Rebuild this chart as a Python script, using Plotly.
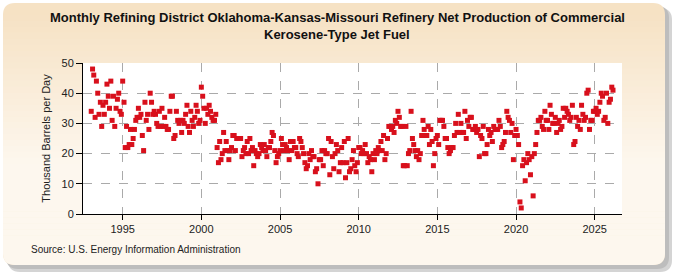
import pandas as pd
import plotly.graph_objects as go

# ---- data (thousand barrels per day, monthly from Jan 1993) ----
y1993 = [34, 48, 46, 32, 44, 40, 33, 37, 29, 36, 33, 37]
y1994 = [43, 39, 35, 44, 31, 39, 29, 35, 38, 40, 34, 33]
y1995 = [44, 37, 22, 29, 22, 23, 28, 23, 25, 28, 31, 32]
y1996 = [35, 32, 33, 26, 21, 37, 31, 33, 28, 40, 37, 33]
y1997 = [34, 33, 30, 29, 34, 29, 35, 29, 32, 29, 28, 28]
y1998 = [34, 39, 39, 25, 26, 34, 31, 30, 31, 27, 31, 30]
y1999 = [33, 36, 29, 27, 34, 31, 29, 32, 36, 34, 30, 31]
y2000 = [42, 39, 35, 30, 35, 33, 36, 34, 32, 31, 31, 33]
y2001 = [22, 17, 24, 18, 20, 27, 21, 24, 21, 18, 21, 22]
y2002 = [26, 26, 21, 25, 25, 25, 25, 19, 21, 22, 20, 24]
y2003 = [20, 25, 21, 22, 16, 21, 20, 19, 20, 23, 22, 21]
y2004 = [23, 21, 19, 22, 22, 24, 27, 26, 21, 17, 19, 20]
y2005 = [21, 25, 23, 21, 23, 22, 21, 18, 24, 21, 24, 22]
y2006 = [22, 20, 19, 25, 24, 22, 20, 17, 15, 16, 20, 18]
y2007 = [21, 19, 19, 14, 15, 10, 18, 18, 21, 16, 21, 20]
y2008 = [20, 25, 13, 24, 19, 15, 20, 23, 21, 14, 17, 22]
y2009 = [17, 24, 12, 17, 25, 14, 15, 18, 21, 16, 14, 17]
y2010 = [22, 22, 20, 21, 20, 23, 20, 17, 19, 18, 14, 20]
y2011 = [18, 21, 20, 22, 21, 24, 21, 26, 18, 20, 25, 29]
y2012 = [29, 28, 29, 27, 31, 30, 34, 32, 29, 29, 16, 16]
y2013 = [29, 16, 20, 21, 34, 25, 23, 21, 19, 21, 18, 20]
y2014 = [26, 31, 28, 26, 26, 29, 23, 28, 24, 16, 20, 25]
y2015 = [26, 23, 31, 31, 31, 29, 25, 25, 22, 20, 21, 22]
y2016 = [22, 26, 30, 27, 33, 27, 30, 27, 27, 34, 25, 31]
y2017 = [29, 32, 32, 28, 28, 29, 27, 28, 19, 26, 25, 29]
y2018 = [20, 20, 23, 28, 26, 27, 24, 29, 28, 28, 28, 31]
y2019 = [29, 22, 23, 24, 27, 34, 32, 31, 27, 30, 18, 26]
y2020 = [28, 26, 23, 4, 2, 16, 18, 11, 17, 20, 18, 13]
y2021 = [19, 6, 20, 23, 27, 31, 31, 32, 29, 28, 34, 31]
y2022 = [31, 28, 36, 33, 30, 30, 32, 27, 30, 31, 28, 29]
y2023 = [35, 32, 35, 34, 33, 31, 32, 36, 23, 24, 32, 29]
y2024 = [31, 28, 36, 33, 31, 32, 40, 41, 28, 31, 31, 34]
y2025 = [34, 35, 33, 34, 37, 40, 39, 31, 32, 40, 30, 37]
y2026 = [38, 42, 41]

values = (y1993 + y1994 + y1995 + y1996 + y1997 + y1998 + y1999 + y2000 + y2001
          + y2002 + y2003 + y2004 + y2005 + y2006 + y2007 + y2008 + y2009 + y2010
          + y2011 + y2012 + y2013 + y2014 + y2015 + y2016 + y2017 + y2018 + y2019
          + y2020 + y2021 + y2022 + y2023 + y2024 + y2025 + y2026)
dates = pd.date_range("1993-01-01", periods=len(values), freq="MS")

title_lines = ["Monthly Refining District Oklahoma-Kansas-Missouri Refinery Net Production of Commercial",
               "Kerosene-Type Jet Fuel"]
y_title = "Thousand Barrels per Day"
source = "Source: U.S. Energy Information Administration"

# ---- layout geometry ----
W, H = 675, 275
L, R, T, B = 83, 622, 63, 214
PW, PH = R - L, B - T


def px(x):
    return (x - L) / PW


def py(y):
    return (B - y) / PH


def rrect(x0, y0, x1, y1, r, top=True, bottom=True):
    rt = r if top else 0
    rb = r if bottom else 0
    X0, X1 = px(x0), px(x1)
    Y0, Y1 = py(y0), py(y1)
    ryt, ryb = rt / PH, rb / PH
    rxt, rxb = rt / PW, rb / PW
    p = f"M {X0 + rxt} {Y0} L {X1 - rxt} {Y0} "
    if top:
        p += f"Q {X1} {Y0} {X1} {Y0 - ryt} "
    p += f"L {X1} {Y1 + ryb} "
    if bottom:
        p += f"Q {X1} {Y1} {X1 - rxb} {Y1} "
    p += f"L {X0 + rxb} {Y1} "
    if bottom:
        p += f"Q {X0} {Y1} {X0} {Y1 + ryb} "
    p += f"L {X0} {Y0 - ryt} "
    if top:
        p += f"Q {X0} {Y0} {X0 + rxt} {Y0} "
    p += "Z"
    return p


shapes = []
# shadow
shapes.append(dict(type="path", path=rrect(8, 8, 672, 272, 12), xref="paper", yref="paper",
                   fillcolor="#D4D4D4", line=dict(width=0), layer="below"))
shapes.append(dict(type="path", path=rrect(6, 6, 669, 269, 12), xref="paper", yref="paper",
                   fillcolor="#BDBDBD", line=dict(width=0), layer="below"))
# panel gradient
top_c = (246, 226, 196)
bot_c = (253, 247, 238)
shapes.append(dict(type="path", path=rrect(3, 3, 665, 265, 12), xref="paper", yref="paper",
                   fillcolor="rgb(%d,%d,%d)" % top_c, line=dict(width=0), layer="below"))
y_start, y_end = 15, 253
n = 40
for i in range(n):
    a = y_start + (y_end - y_start) * i / n
    b = y_start + (y_end - y_start) * (i + 1) / n
    t = min(1.0, (i + 0.5) / n * 1.6)
    c = tuple(int(round(top_c[k] + (bot_c[k] - top_c[k]) * t)) for k in range(3))
    shapes.append(dict(type="rect", xref="paper", yref="paper", x0=px(3), x1=px(665),
                       y0=py(a), y1=py(b + 0.5), fillcolor="rgb(%d,%d,%d)" % c,
                       line=dict(width=0), layer="below"))
shapes.append(dict(type="path", path=rrect(3, 252, 665, 265, 12, top=False), xref="paper", yref="paper",
                   fillcolor="rgb(%d,%d,%d)" % bot_c, line=dict(width=0), layer="below"))
# plot area
shapes.append(dict(type="rect", xref="paper", yref="paper", x0=0, x1=1, y0=0, y1=1,
                   fillcolor="white", line=dict(width=0), layer="below"))

fig = go.Figure()
fig.add_trace(go.Scatter(
    x=dates, y=values, mode="markers",
    marker=dict(symbol="square", size=5, color="#D8101C", line=dict(width=0)),
    hoverinfo="x+y", showlegend=False))

font_main = "Liberation Sans, Arial, sans-serif"
title_font = dict(family="Liberation Sans, Arial, sans-serif", size=13, color="#111", weight="bold")
annotations = [
    dict(text=title_lines[0], xref="paper", yref="paper", x=px(337), y=py(17),
         xanchor="center", yanchor="middle", showarrow=False, font=title_font),
    dict(text=title_lines[1], xref="paper", yref="paper", x=px(337), y=py(35),
         xanchor="center", yanchor="middle", showarrow=False, font=title_font),
    dict(text=source, xref="paper", yref="paper", x=px(29), y=py(250),
         xanchor="left", yanchor="middle", showarrow=False,
         font=dict(family=font_main, size=10, color="#222")),
]

fig.update_layout(
    width=W, height=H,
    margin=dict(l=L, r=W - R, t=T, b=H - B),
    paper_bgcolor="white", plot_bgcolor="white",
    shapes=shapes,
    xaxis=dict(type="date",
               range=["1992-06-24", "2026-09-26"],
               tick0="1995-01-01", dtick="M60", tickformat="%Y",
               showgrid=True, gridcolor="#AAAAAA", griddash="dash", gridwidth=1,
               showline=True, linecolor="black", linewidth=1,
               ticks="outside", ticklen=5, tickcolor="black",
               tickfont=dict(family=font_main, size=11, color="#222"),
               zeroline=False, fixedrange=True),
    yaxis=dict(range=[0, 50], dtick=10, tick0=0,
               showgrid=True, gridcolor="#AAAAAA", griddash="dash", gridwidth=1,
               showline=True, linecolor="black", linewidth=1,
               ticks="outside", ticklen=6, tickcolor="black",
               tickfont=dict(family=font_main, size=11, color="#222"),
               title=dict(text=y_title, font=dict(family=font_main, size=11, color="#222"),
                          standoff=8),
               zeroline=False, fixedrange=True),
    annotations=annotations,
)

fig.write_html("out.html")
